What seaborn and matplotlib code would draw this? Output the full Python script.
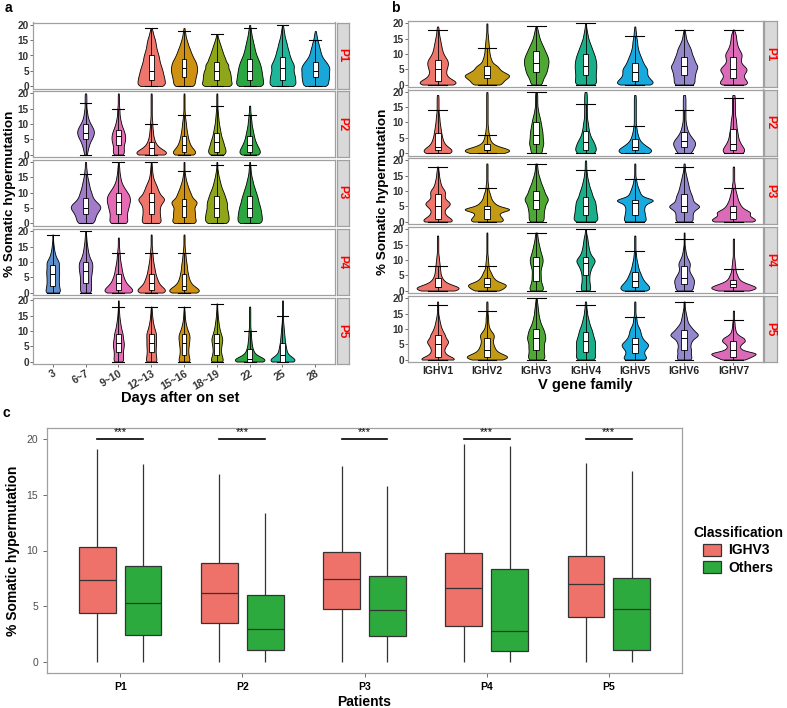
"""Somatic hypermutation by day / V gene family / patient"""

import numpy as np
import pandas as pd
import matplotlib
matplotlib.use("Agg")
import matplotlib.pyplot as plt
import seaborn as sns
from matplotlib import cbook

W, H = 787, 708

days = ['3', '6~7', '9~10', '12~13', '15~16', '18~19', '22', '25', '28']
genes = ['IGHV1', 'IGHV2', 'IGHV3', 'IGHV4', 'IGHV5', 'IGHV6', 'IGHV7']
patients = ['P1', 'P2', 'P3', 'P4', 'P5']

day_colors = ['#5E8FCD', '#A27CC8', '#E56BB5', '#EE756C', '#CF9112',
              '#8FA61A', '#2BA640', '#1FB59A', '#1AA6D6']
gene_colors = ['#EE756C', '#C29A14', '#4FA834', '#19AF8A', '#18A9DE',
               '#9587CC', '#DB6AB8']
class_colors = ['#EE726A', '#2CAA3E']

# violins: relative number of sequences at 0, 1, 2, ... % mutation
a_p1 = {
    '12~13': [28, 28, 27, 26, 24, 23, 21, 19, 17, 16, 15, 13, 11, 10, 9, 8, 6, 4, 3, 1],
    '15~16': [22, 23, 24, 25, 27, 28, 28, 27, 25, 21, 18, 15, 13, 10, 8, 6, 4, 3, 2, 1],
    '18~19': [30, 30, 28, 28, 27, 26, 22, 24, 18, 17, 14, 12, 10, 8, 6, 4, 2, 1],
    '22': [30, 30, 29, 28, 27, 26, 25, 23, 21, 18, 15, 13, 11, 10, 8, 7, 5, 4, 3, 2, 1],
    '25': [28, 28, 27, 27, 25, 23, 24, 25, 20, 18, 15, 14, 12, 10, 9, 7, 5, 4, 3, 2, 1],
    '28': [23, 24, 25, 26, 26, 26, 27, 24, 20, 15, 12, 10, 9, 7, 6, 4, 3, 2, 1],
}
a_p2 = {
    '6~7': [2, 2, 3, 4, 5, 7, 9, 10, 10, 8, 6, 4, 3, 2, 2, 1, 1, 1, 1, 1, 1],
    '9~10': [10, 10, 9, 9, 11, 12, 12, 11, 9, 7, 5, 4, 3, 2, 2, 2, 1, 1, 1, 1, 1],
    '12~13': [32, 28, 15, 10, 7, 5, 4, 3, 3, 2, 2, 2, 1, 1, 1, 1, 1, 1, 1, 1, 1],
    '15~16': [24, 23, 16, 12, 10, 8, 7, 6, 5, 4, 4, 3, 2, 2, 1, 1, 1, 1, 1, 1, 1],
    '18~19': [16, 17, 15, 13, 12, 10, 8, 7, 6, 5, 4, 3, 3, 2, 2, 1, 1, 1, 1, 1, 1],
    '22': [17, 17, 15, 12, 10, 8, 7, 6, 5, 4, 3, 3, 2, 2, 1, 1, 1],
}
a_p3 = {
    '6~7': [13, 14, 15, 17, 20, 24, 22, 16, 12, 10, 9, 7, 6, 5, 4, 3, 2, 2, 1, 1, 1],
    '9~10': [18, 18, 17, 17, 18, 20, 21, 23, 23, 22, 18, 14, 10, 7, 5, 4, 3, 2, 2, 1, 1],
    '12~13': [21, 20, 19, 18, 18, 18, 20, 25, 30, 20, 17, 14, 12, 9, 6, 4, 3, 2, 2, 1, 1],
    '15~16': [25, 24, 22, 22, 22, 20, 24, 28, 18, 15, 13, 10, 8, 6, 4, 3, 2, 1, 1, 1, 1],
    '18~19': [23, 24, 24, 23, 22, 20, 21, 20, 18, 16, 14, 11, 9, 7, 6, 4, 3, 2, 1, 1, 1],
    '22': [25, 25, 25, 24, 23, 22, 20, 18, 17, 15, 13, 11, 9, 7, 6, 4, 3, 2, 2, 1, 1],
}
a_p4 = {
    '3': [22, 20, 18, 17, 17, 17, 18, 18, 17, 17, 18, 12, 8, 6, 4, 3, 2, 1, 1, 1],
    '6~7': [13, 12, 12, 12, 12, 12, 13, 14, 15, 15, 15, 10, 8, 6, 5, 4, 3, 2, 2, 1, 1],
    '9~10': [28, 27, 21, 15, 12, 10, 8, 7, 6, 5, 4, 3, 3, 2, 2, 1, 1, 1, 1],
    '12~13': [28, 27, 19, 14, 12, 10, 8, 7, 6, 5, 4, 3, 3, 2, 2, 1, 1, 1, 1, 1],
    '15~16': [30, 28, 18, 12, 10, 8, 7, 6, 5, 5, 4, 3, 3, 2, 2, 1, 1, 1, 1, 1],
}
a_p5 = {
    '9~10': [12, 11, 10, 10, 11, 12, 13, 11, 10, 10, 8, 6, 5, 4, 3, 2, 2, 1, 1, 1, 1],
    '12~13': [18, 15, 14, 13, 13, 14, 14, 14, 14, 15, 12, 9, 7, 5, 4, 3, 2, 2, 1],
    '15~16': [18, 15, 13, 12, 12, 13, 14, 15, 16, 15, 11, 8, 6, 4, 3, 2, 2, 1, 1],
    '18~19': [18, 14, 12, 10, 10, 11, 12, 14, 13, 10, 8, 6, 5, 4, 3, 2, 2, 1, 1, 1],
    '22': [30, 26, 10, 7, 5, 4, 3, 3, 2, 2, 2, 1, 1, 1, 1, 1, 1, 1, 1],
    '25': [30, 24, 10, 8, 7, 6, 5, 4, 4, 3, 3, 2, 2, 1, 1, 1, 1, 1, 1, 1, 1],
}

b_p1 = {
    'IGHV1': [35, 33, 20, 15, 14, 15, 17, 18, 17, 13, 10, 8, 7, 6, 5, 4, 3, 2, 2, 1],
    'IGHV2': [27, 28, 35, 43, 30, 22, 20, 10, 8, 6, 5, 4, 4, 3, 3, 2, 2, 1, 1, 1, 1],
    'IGHV3': [8, 9, 10, 13, 15, 16, 17, 18, 18, 17, 15, 13, 11, 9, 7, 5, 4, 3, 2, 1],
    'IGHV4': [19, 19, 18, 18, 18, 19, 19, 19, 18, 17, 15, 13, 11, 9, 7, 5, 4, 3, 2, 1, 1],
    'IGHV5': [32, 30, 24, 20, 20, 21, 17, 14, 12, 10, 8, 6, 5, 4, 4, 3, 2, 2, 1, 1],
    'IGHV6': [20, 20, 20, 21, 22, 24, 27, 22, 20, 18, 15, 14, 12, 9, 6, 4, 3, 2, 1],
    'IGHV7': [28, 26, 20, 18, 22, 27, 20, 14, 13, 15, 16, 12, 9, 7, 6, 5, 5, 3, 1],
}
b_p2 = {
    'IGHV1': [18, 18, 10, 7, 6, 5, 4, 4, 3, 3, 2, 2, 2, 1, 1, 1, 1, 1, 1, 1],
    'IGHV2': [28, 44, 15, 8, 5, 4, 3, 2, 2, 1, 1, 1, 1, 1, 1, 1, 1, 1, 1, 1, 1],
    'IGHV3': [7, 5, 5, 8, 6, 6, 6, 6, 5, 5, 4, 4, 3, 2, 2, 1, 1, 1, 1, 1, 1],
    'IGHV4': [9, 9, 7, 7, 6, 4, 3, 3, 2, 2, 2, 1, 1, 1, 1, 1, 1, 1, 1, 1, 1],
    'IGHV5': [20, 19, 13, 8, 5, 4, 3, 2, 2, 1, 1, 1, 1, 1, 1, 1, 1, 1, 1, 1],
    'IGHV6': [7, 6, 7, 10, 8, 6, 4, 3, 2, 2, 1, 1, 1, 1, 1, 1, 1, 1, 1, 1],
    'IGHV7': [10, 9, 6, 5, 4, 3, 3, 3, 2, 2, 2, 2, 1, 1, 1, 1, 1, 1, 1, 1],
}
b_p3 = {
    'IGHV1': [28, 20, 12, 10, 10, 16, 22, 12, 10, 11, 12, 7, 5, 4, 3, 2, 2, 1, 1],
    'IGHV2': [27, 25, 20, 18, 44, 18, 12, 8, 6, 5, 3, 2, 2, 1, 1, 1, 1, 1, 1, 1],
    'IGHV3': [12, 12, 12, 12, 13, 14, 15, 20, 18, 14, 13, 11, 9, 7, 6, 4, 3, 2, 2, 1],
    'IGHV4': [17, 17, 16, 15, 15, 14, 14, 13, 10, 9, 8, 6, 5, 4, 3, 2, 2, 1, 1, 1, 1],
    'IGHV5': [20, 19, 18, 17, 16, 17, 20, 40, 14, 10, 8, 6, 4, 3, 2, 1, 1, 1, 1, 1],
    'IGHV6': [13, 12, 12, 12, 15, 27, 14, 12, 12, 10, 8, 7, 6, 5, 4, 3, 2, 1, 1, 1],
    'IGHV7': [32, 28, 18, 25, 14, 10, 8, 6, 5, 4, 3, 2, 2, 1, 1, 1, 1, 1, 1],
}
b_p4 = {
    'IGHV1': [30, 37, 18, 10, 7, 5, 4, 4, 3, 3, 2, 2, 1, 1, 1, 1, 1, 1, 1],
    'IGHV2': [27, 35, 42, 20, 14, 10, 8, 4, 3, 3, 2, 2, 1, 1, 1, 1, 1, 1, 1, 1],
    'IGHV3': [13, 10, 8, 7, 6, 7, 6, 6, 8, 9, 10, 9, 7, 6, 5, 4, 3, 2, 2, 1],
    'IGHV4': [10, 9, 8, 7, 7, 7, 8, 10, 12, 16, 20, 12, 9, 7, 6, 5, 4, 4, 2, 1, 1],
    'IGHV5': [23, 24, 20, 15, 12, 10, 8, 6, 5, 4, 3, 2, 2, 1, 1, 1, 1, 1, 1],
    'IGHV6': [18, 19, 20, 22, 20, 16, 12, 10, 12, 13, 9, 6, 4, 3, 2, 1, 1, 1, 1, 1],
    'IGHV7': [27, 40, 25, 12, 8, 6, 4, 3, 3, 2, 2, 1, 1, 1, 1, 1, 1, 1],
}
b_p5 = {
    'IGHV1': [40, 18, 12, 10, 12, 15, 20, 12, 13, 9, 7, 5, 4, 3, 2, 1, 1, 1, 1, 1],
    'IGHV2': [28, 38, 20, 14, 12, 10, 9, 10, 12, 8, 4, 3, 2, 2, 2, 1, 1, 1, 1, 1],
    'IGHV3': [13, 12, 11, 10, 12, 10, 12, 14, 12, 12, 10, 8, 6, 5, 4, 3, 3, 2, 2, 1, 1],
    'IGHV4': [13, 13, 12, 12, 13, 12, 13, 11, 10, 9, 8, 6, 5, 4, 3, 2, 2, 1, 1, 1],
    'IGHV5': [20, 18, 14, 15, 20, 23, 16, 12, 10, 9, 8, 5, 3, 3, 2, 1, 1, 1, 1, 1],
    'IGHV6': [13, 12, 10, 12, 10, 10, 12, 15, 27, 18, 14, 10, 6, 5, 4, 3, 2, 1, 1, 1],
    'IGHV7': [20, 30, 42, 15, 10, 12, 20, 18, 8, 4, 3, 2, 2, 1, 1, 1, 1],
}

# panel c boxes: min, q1, median, q3, max
c_ighv3 = {'P1': [0, 4.36, 7.31, 10.27, 19.1], 'P2': [0, 3.49, 6.15, 8.87, 16.87],
           'P3': [0, 4.75, 7.43, 9.88, 17.58], 'P4': [0, 3.19, 6.66, 9.82, 19.52],
           'P5': [0, 4.0, 6.96, 9.52, 17.9]}
c_others = {'P1': [0, 2.42, 5.28, 8.63, 17.8], 'P2': [0, 1.04, 2.96, 6.0, 13.4],
            'P3': [0, 2.33, 4.66, 7.7, 15.76], 'P4': [0, 0.99, 2.78, 8.36, 19.4],
            'P5': [0, 1.04, 4.75, 7.49, 17.16]}

a_data = [a_p1, a_p2, a_p3, a_p4, a_p5]
b_data = [b_p1, b_p2, b_p3, b_p4, b_p5]

plt.rcParams['font.family'] = ['Liberation Sans', 'DejaVu Sans']
GRAY = '#A0A0A0'


def px_axes(fig, left, top, right, bottom):
    return fig.add_axes([left / W, 1 - bottom / H, (right - left) / W, (bottom - top) / H])


def expand(hist):
    return np.repeat(np.arange(len(hist)), hist)


def violin_facet(ax, hist, cats, colors, box_w, cap_w):
    df = pd.concat([pd.DataFrame({'cat': c, 'shm': expand(v)}) for c, v in hist.items()],
                   ignore_index=True)
    sns.violinplot(data=df, x='cat', y='shm', hue='cat', order=cats, hue_order=cats,
                   palette=dict(zip(cats, colors)), density_norm='area', common_norm=True,
                   cut=0, inner=None, width=0.9, bw_adjust=0.5, linewidth=0.6,
                   linecolor='black', saturation=1, legend=False, ax=ax)
    stats = [cbook.boxplot_stats(expand(v), whis=1.5)[0] for v in hist.values()]
    pos = [cats.index(c) for c in hist]
    ax.bxp(stats, positions=pos, widths=box_w, capwidths=cap_w, patch_artist=True,
           showfliers=False, manage_ticks=False,
           boxprops=dict(facecolor='white', edgecolor='black', linewidth=0.6),
           whiskerprops=dict(color='black', linewidth=0.6),
           capprops=dict(color='black', linewidth=0.8),
           medianprops=dict(color='black', linewidth=0.7))
    ax.set_xlim(-0.6, len(cats) - 0.4)
    ax.set_ylim(-0.8, 20.8)
    ax.set_yticks([0, 5, 10, 15, 20])
    ax.set_xlabel('')
    ax.set_ylabel('')
    for s in ax.spines.values():
        s.set_color(GRAY)
        s.set_linewidth(0.9)
    ax.tick_params(axis='both', length=2, width=0.6, color='#555555', pad=1)
    for t in ax.get_yticklabels():
        t.set_fontsize(7.2)
        t.set_fontweight('bold')
        t.set_color('#333333')


def strip(fig, left, top, right, bottom, label):
    sax = px_axes(fig, left, top, right, bottom)
    sax.set_facecolor('#D9D9D9')
    sax.set_xticks([])
    sax.set_yticks([])
    for s in sax.spines.values():
        s.set_color(GRAY)
        s.set_linewidth(0.9)
    sax.text(0.5, 0.5, label, rotation=270, color='red', fontsize=8.5, fontweight='bold',
             ha='center', va='center', transform=sax.transAxes)


fig = plt.figure(figsize=(W / 100, H / 100), dpi=100)

# panel a
a_tops = [22.5, 91, 159.5, 229, 298]
for i, (top, hist) in enumerate(zip(a_tops, a_data)):
    ax = px_axes(fig, 33, top, 335, top + 66)
    violin_facet(ax, hist, days, day_colors, 0.15, 0.36)
    if i < 4:
        ax.set_xticks([])
    else:
        ax.set_xticks(range(len(days)))
        ax.set_xticklabels(days, rotation=30, ha='right', rotation_mode='anchor',
                           fontsize=7.5, fontweight='bold', color='#333333')
    strip(fig, 336.5, top, 349, top + 66, patients[i])

# panel b
b_tops = [21, 89.5, 158, 227, 296]
for i, (top, hist) in enumerate(zip(b_tops, b_data)):
    ax = px_axes(fig, 408, top, 763, top + 66)
    violin_facet(ax, hist, genes, gene_colors, 0.12, 0.38)
    if i < 4:
        ax.set_xticks([])
    else:
        ax.set_xticks(range(len(genes)))
        ax.set_xticklabels(genes, fontsize=7.5, fontweight='bold', color='#222222')
    strip(fig, 764, top, 777, top + 66, patients[i])

fig.text(10 / W, 1 - 194 / H, '% Somatic hypermutation', rotation=90, fontsize=9.7,
         fontweight='bold', ha='center', va='center')
fig.text(383 / W, 1 - 192 / H, '% Somatic hypermutation', rotation=90, fontsize=9.7,
         fontweight='bold', ha='center', va='center')
fig.text(180 / W, 1 - 398 / H, 'Days after on set', fontsize=10.5, fontweight='bold',
         ha='center', va='center')
fig.text(585 / W, 1 - 385 / H, 'V gene family', fontsize=10.5, fontweight='bold',
         ha='center', va='center')

# panel c
rows = []
for p in patients:
    for cls, d in (('IGHV3', c_ighv3), ('Others', c_others)):
        for v in d[p]:
            rows.append((p, cls, v))
dfc = pd.DataFrame(rows, columns=['patient', 'Classification', 'shm'])

axc = px_axes(fig, 47, 428, 682, 673)
sns.boxplot(data=dfc, x='patient', y='shm', hue='Classification', order=patients,
            palette=class_colors, whis=(0, 100), width=0.75, gap=0.2, linewidth=0.9,
            linecolor='#333333', showcaps=False, saturation=1, ax=axc)
for i in range(len(patients)):
    axc.plot([i - 0.1875, i + 0.1875], [20, 20], color='black', lw=1.2)
    axc.text(i, 20.15, '***', ha='center', va='bottom', fontsize=8)
axc.set_xlim(-0.6, 4.6)
axc.set_ylim(-1, 21)
axc.set_yticks([0, 5, 10, 15, 20])
axc.set_xlabel('Patients', fontsize=10, fontweight='bold', labelpad=2)
axc.set_ylabel('% Somatic hypermutation', fontsize=10, fontweight='bold')
axc.yaxis.set_label_coords(-27 / 635, 0.5)
for s in axc.spines.values():
    s.set_color(GRAY)
    s.set_linewidth(0.9)
axc.tick_params(axis='both', length=3, width=0.6, color='#555555')
for t in axc.get_yticklabels():
    t.set_fontsize(7.5)
    t.set_color('#4D4D4D')
for t in axc.get_xticklabels():
    t.set_fontsize(7.5)
    t.set_fontweight('bold')
sns.move_legend(axc, 'center left', bbox_to_anchor=(1.0, 0.5), frameon=False,
                title='Classification', handlelength=1.3, handleheight=1.0,
                labelspacing=0.25, handletextpad=0.5, borderaxespad=0.4,
                fontsize=10, title_fontsize=10)
leg = axc.get_legend()
leg.get_title().set_fontweight('bold')
for t in leg.get_texts():
    t.set_fontweight('bold')

fig.text(8 / W, 1 - 8 / H, 'a', fontsize=10, fontweight='bold', ha='center', va='center')
fig.text(395 / W, 1 - 8 / H, 'b', fontsize=10, fontweight='bold', ha='center', va='center')
fig.text(6 / W, 1 - 413 / H, 'c', fontsize=10, fontweight='bold', ha='center', va='center')

fig.savefig('out.png', dpi=100)
